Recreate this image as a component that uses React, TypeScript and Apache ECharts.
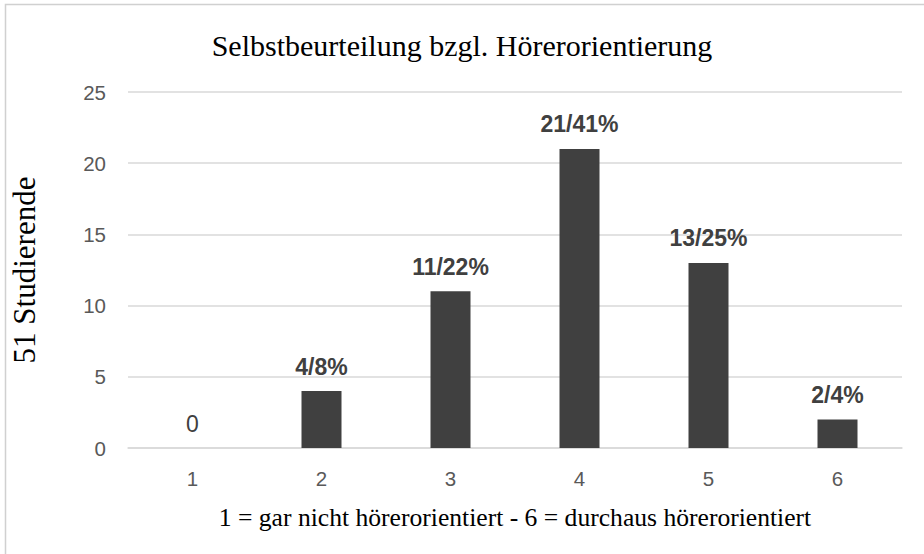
import React, { useEffect, useRef } from "react";
import * as echarts from "echarts";

const categories = ["1", "2", "3", "4", "5", "6"];
const counts = [0, 4, 11, 21, 13, 2];
const labelTexts = ["0", "4/8%", "11/22%", "21/41%", "13/25%", "2/4%"];
const yMin = 0;
const yMax = 25;
const yInterval = 5;

const titleText = "Selbstbeurteilung bzgl. Hörerorientierung";
const yTitle = "51 Studierende";
const xTitle = "1 = gar nicht hörerorientiert - 6 = durchaus hörerorientiert";

const SERIF = "'Liberation Serif', 'Times New Roman', serif";
const SANS = "'Liberation Sans', Arial, sans-serif";

export default function App() {
  const ref = useRef<HTMLDivElement>(null);
  useEffect(() => {
    document.body.style.margin = "0";
    const chart = echarts.init(ref.current!, null, { renderer: "svg" });
    chart.setOption({
      animation: false,
      backgroundColor: "#ffffff",
      title: {
        text: titleText,
        left: "center",
        top: 25,
        textStyle: { fontFamily: SERIF, fontSize: 30, fontWeight: "normal", color: "#000000" },
      },
      graphic: [
        {
          type: "rect",
          shape: { x: 5.5, y: 4.5, width: 940, height: 570 },
          style: { fill: "none", stroke: "#d0d0d0", lineWidth: 1.5 },
          silent: true,
        },
      ],
      grid: { left: 128, right: 22, top: 92, bottom: 106, containLabel: false },
      xAxis: {
        type: "category",
        data: categories,
        name: xTitle,
        nameLocation: "middle",
        nameGap: 56,
        nameTextStyle: { fontFamily: SERIF, fontSize: 25.6, color: "#000000" },
        axisLine: { show: true, lineStyle: { color: "#d9d9d9", width: 1.5 } },
        axisTick: { show: false },
        axisLabel: { fontFamily: SANS, fontSize: 20.5, color: "#595959", margin: 20 },
      },
      yAxis: {
        type: "value",
        min: yMin,
        max: yMax,
        interval: yInterval,
        name: yTitle,
        nameLocation: "middle",
        nameRotate: 90,
        nameGap: 88,
        nameTextStyle: { fontFamily: SERIF, fontSize: 31, color: "#000000" },
        axisLine: { show: false },
        axisTick: { show: false },
        axisLabel: { fontFamily: SANS, fontSize: 20.5, color: "#595959", margin: 22 },
        splitLine: { show: true, lineStyle: { color: "#d9d9d9", width: 1.5 } },
      },
      series: [
        {
          type: "bar",
          data: counts.map((v, i) => ({
            value: v,
            label: { fontWeight: i === 0 ? "normal" : "bold" },
          })),
          barWidth: 40,
          itemStyle: { color: "#404040" },
          label: {
            show: true,
            position: "top",
            distance: 13,
            fontFamily: SANS,
            fontSize: 23,
            color: "#404040",
            formatter: (p: any) => labelTexts[p.dataIndex],
          },
        },
      ],
    });
    return () => chart.dispose();
  }, []);
  return <div ref={ref} style={{ width: 924, height: 554 }} />;
}
